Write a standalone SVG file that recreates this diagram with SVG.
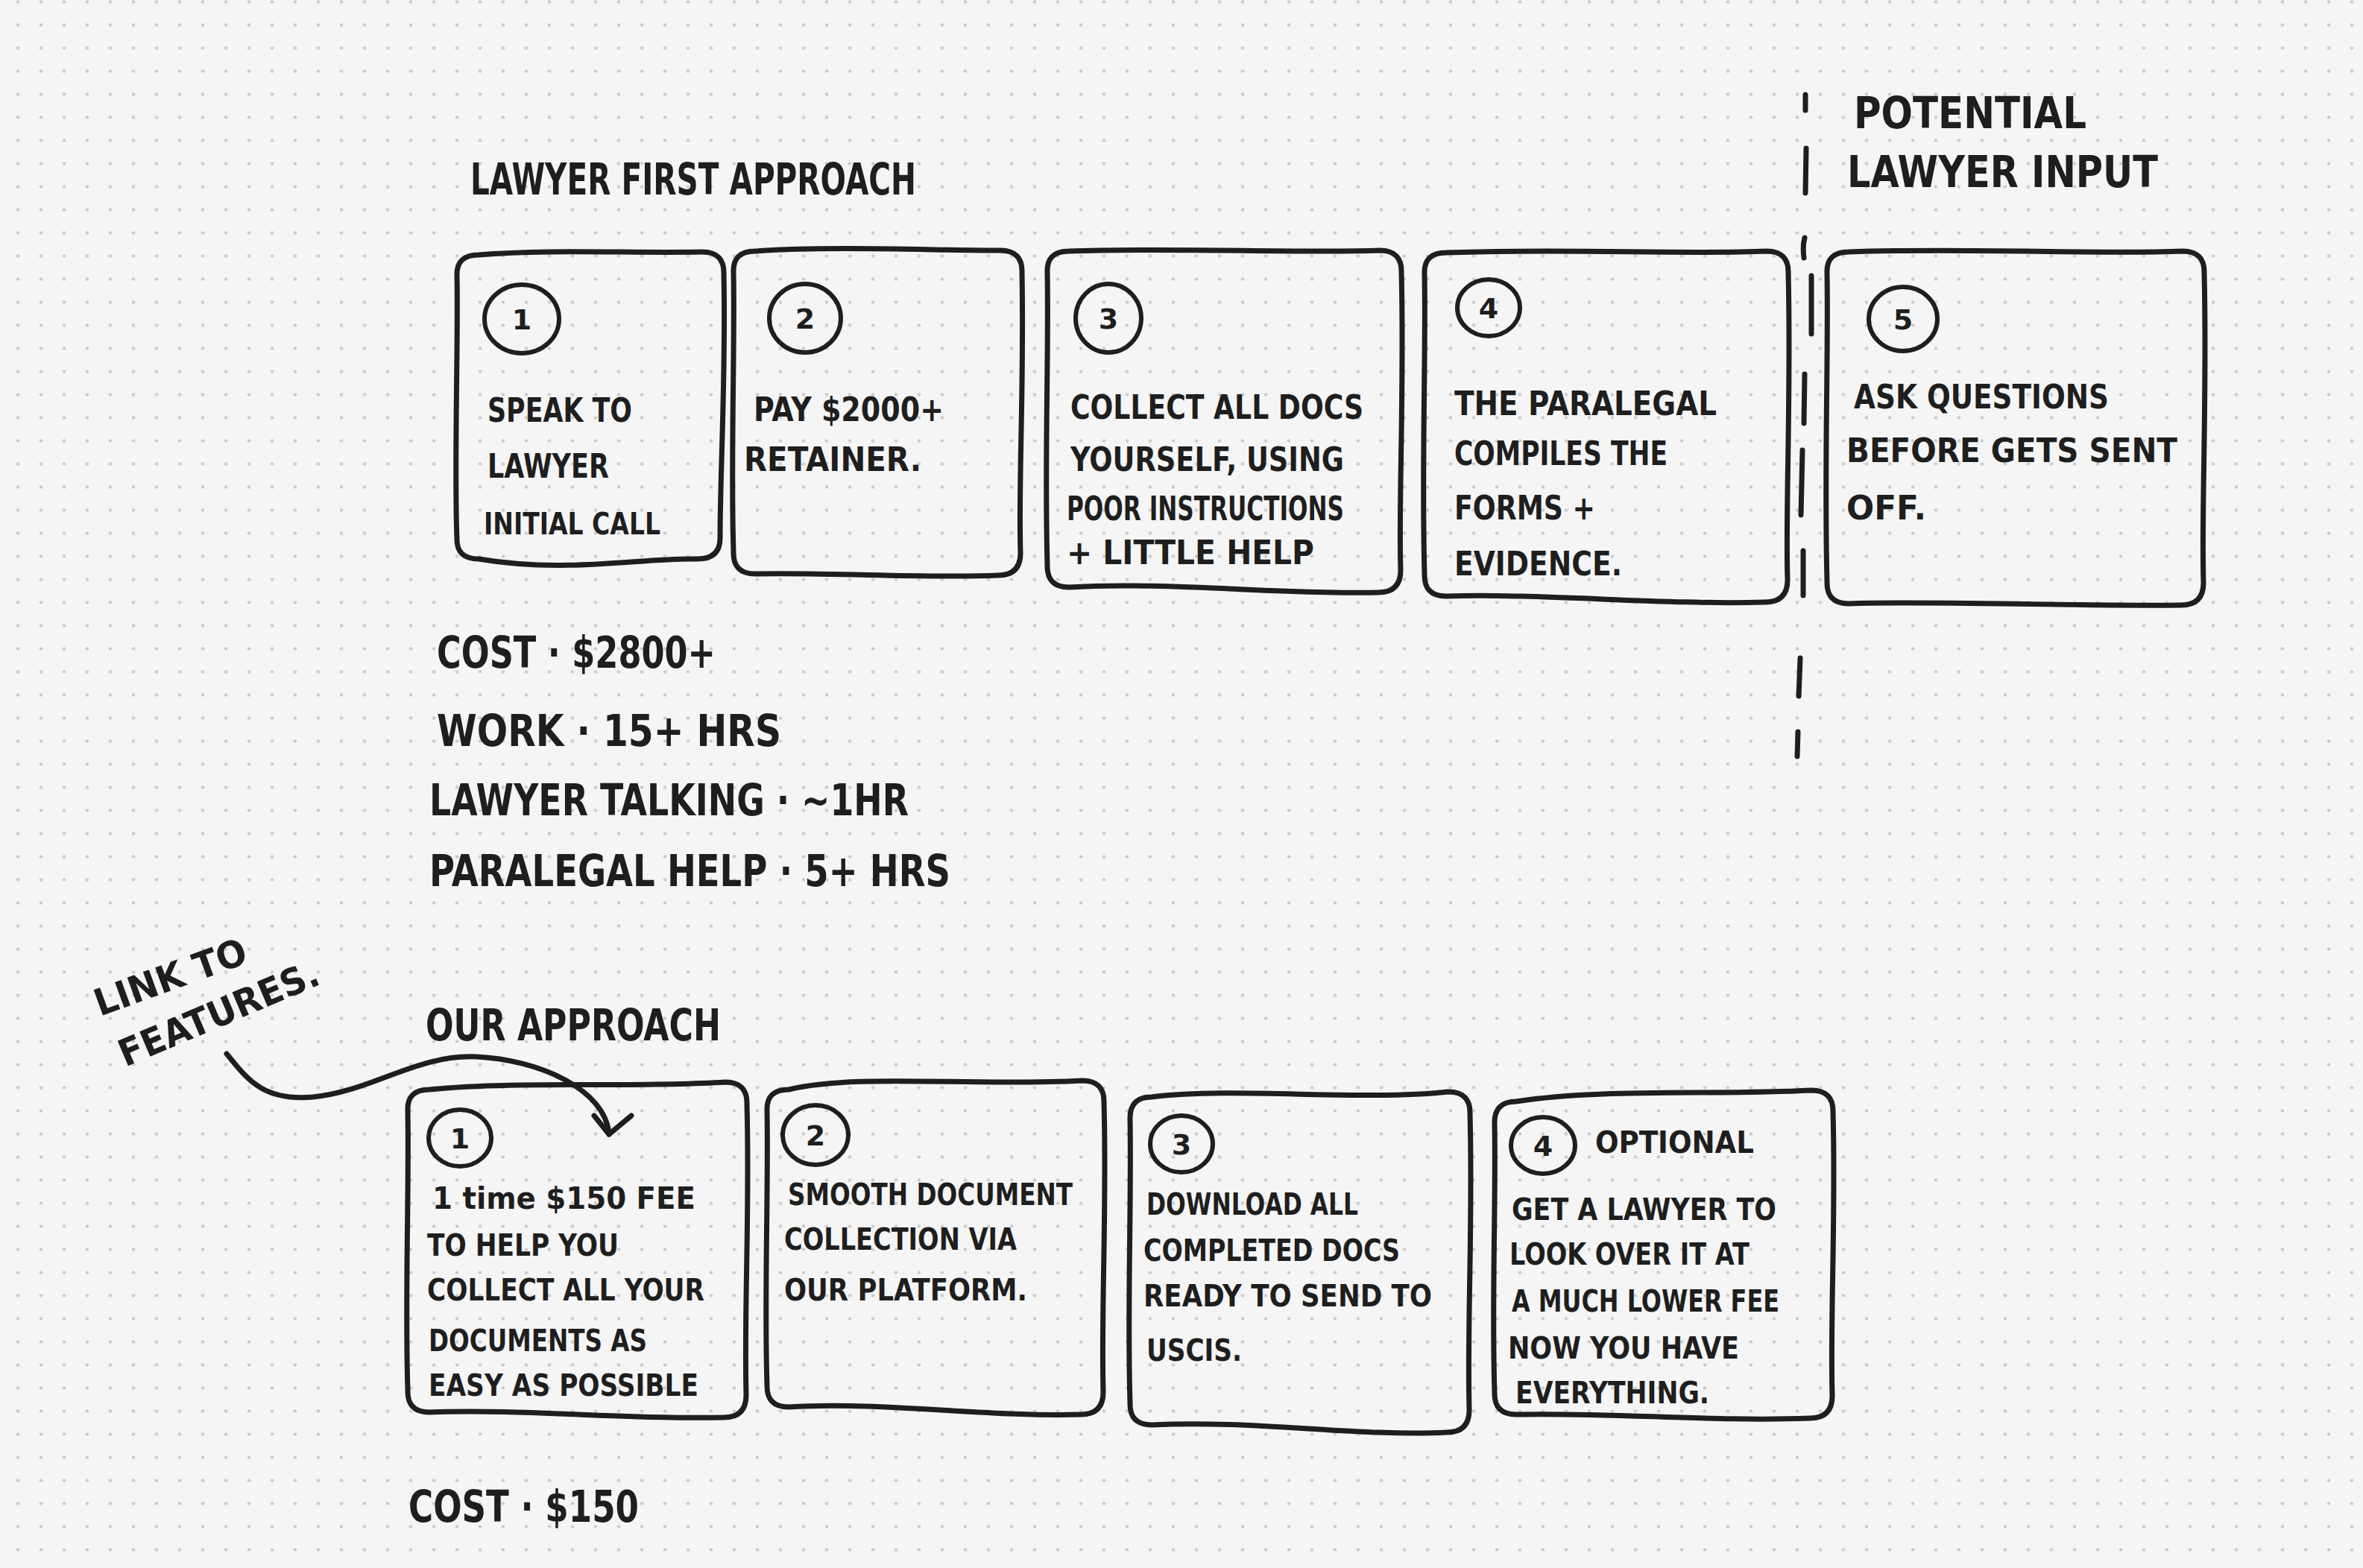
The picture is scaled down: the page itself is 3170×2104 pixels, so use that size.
<svg xmlns="http://www.w3.org/2000/svg" width="3170" height="2104" viewBox="0 0 3170 2104">
<defs>
<pattern id="dots" x="8.5" y="-13" width="31" height="31" patternUnits="userSpaceOnUse">
<circle cx="15.5" cy="15.5" r="2.2" fill="#cacaca"/>
</pattern>
<style>
.box{fill:none;stroke:#1e1e1e;stroke-width:7;stroke-linecap:round;stroke-linejoin:round}
.num{fill:none;stroke:#1e1e1e;stroke-width:6}
.t{font-family:"DejaVu Sans","Liberation Sans",sans-serif;font-weight:bold;fill:#1e1e1e}
.s{font-size:44px}
.m{font-size:40px}
.n{font-size:38px;text-anchor:middle}
.h{font-size:58px}
.ln{fill:none;stroke:#1e1e1e;stroke-width:7;stroke-linecap:round;stroke-linejoin:round}
</style>
</defs>
<rect width="3170" height="2104" fill="#f5f5f5"/>
<rect width="3170" height="2104" fill="url(#dots)"/>

<g id="headings">
<text class="t h" x="631" y="261" textLength="598" lengthAdjust="spacingAndGlyphs">LAWYER FIRST APPROACH</text>
<text class="t h" x="2487" y="172" textLength="312" lengthAdjust="spacingAndGlyphs">POTENTIAL</text>
<text class="t h" x="2478" y="251" textLength="417" lengthAdjust="spacingAndGlyphs">LAWYER INPUT</text>
<text class="t h" x="571" y="1396" textLength="396" lengthAdjust="spacingAndGlyphs">OUR APPROACH</text>
<text class="t" font-size="50" x="134" y="1364" textLength="214" lengthAdjust="spacingAndGlyphs" transform="rotate(-20 134 1364)">LINK TO</text>
<text class="t" font-size="50" x="168" y="1432" textLength="287" lengthAdjust="spacingAndGlyphs" transform="rotate(-23 168 1432)">FEATURES.</text>
</g>

<g id="divider">
<path class="ln" d="M2422 127 L2422 148 M2423 199 L2422 259 M2421 319 Q2418 330 2420 346 M2430 370 L2430 448 M2421 502 L2420 568 M2418 604 L2416 691 M2419 739 L2419 799 M2415 883 L2413 934 M2412 982 L2411 1015"/>
</g>

<g id="top-step-1">
<path class="box" d="M642 342 C738 334,846 340,942 338 Q972 338,971 368 C974 505,966 630,966 722 Q966 750,936 750 C860 748,760 770,642 750 Q612 750,613 722 C609 630,615 450,613 370 Q612 342,642 342 Z"/>
<ellipse class="num" cx="700" cy="428" rx="50" ry="46"/>
<text class="t n" x="700" y="442">1</text>
<text class="t s" x="654" y="566" textLength="194" lengthAdjust="spacingAndGlyphs">SPEAK TO</text>
<text class="t s" x="654" y="641" textLength="163" lengthAdjust="spacingAndGlyphs">LAWYER</text>
<text class="t m" x="649" y="717" textLength="237" lengthAdjust="spacingAndGlyphs">INITIAL CALL</text>
</g>

<g id="top-step-2">
<path class="box" d="M1013 337 C1120 330,1250 336,1342 336 Q1372 336,1371 366 C1374 520,1366 650,1369 742 Q1369 772,1339 772 C1240 776,1120 768,1013 770 Q983 770,984 740 C980 620,986 470,984 365 Q983 337,1013 337 Z"/>
<ellipse class="num" cx="1080" cy="427" rx="48" ry="46"/>
<text class="t n" x="1080" y="441">2</text>
<text class="t s" x="1011" y="565" textLength="255" lengthAdjust="spacingAndGlyphs">PAY $2000+</text>
<text class="t s" x="998" y="632" textLength="238" lengthAdjust="spacingAndGlyphs">RETAINER.</text>
</g>

<g id="top-step-3">
<path class="box" d="M1434 337 C1580 332,1740 340,1851 336 Q1881 336,1880 366 C1884 520,1876 680,1879 765 Q1879 795,1849 795 C1720 798,1560 780,1434 788 Q1404 788,1405 758 C1401 620,1407 480,1405 365 Q1404 337,1434 337 Z"/>
<ellipse class="num" cx="1487" cy="427" rx="44" ry="46"/>
<text class="t n" x="1487" y="441">3</text>
<text class="t s" x="1436" y="562" textLength="393" lengthAdjust="spacingAndGlyphs">COLLECT ALL DOCS</text>
<text class="t s" x="1436" y="632" textLength="367" lengthAdjust="spacingAndGlyphs">YOURSELF, USING</text>
<text class="t s" x="1431" y="698" textLength="372" lengthAdjust="spacingAndGlyphs">POOR INSTRUCTIONS</text>
<text class="t s" x="1431" y="757" textLength="332" lengthAdjust="spacingAndGlyphs">+ LITTLE HELP</text>
</g>

<g id="top-step-4">
<path class="box" d="M1940 339 C2100 333,2260 342,2370 337 Q2400 337,2399 367 C2403 530,2395 690,2398 778 Q2398 808,2368 808 C2230 812,2070 796,1940 800 Q1910 800,1911 770 C1907 630,1913 480,1911 367 Q1910 339,1940 339 Z"/>
<ellipse class="num" cx="1997" cy="413" rx="42" ry="38"/>
<text class="t n" x="1997" y="427">4</text>
<text class="t s" x="1951" y="557" textLength="352" lengthAdjust="spacingAndGlyphs">THE PARALEGAL</text>
<text class="t s" x="1951" y="624" textLength="286" lengthAdjust="spacingAndGlyphs">COMPILES THE</text>
<text class="t s" x="1951" y="697" textLength="189" lengthAdjust="spacingAndGlyphs">FORMS +</text>
<text class="t s" x="1951" y="772" textLength="225" lengthAdjust="spacingAndGlyphs">EVIDENCE.</text>
</g>

<g id="top-step-5">
<path class="box" d="M2480 338 C2640 332,2810 342,2928 337 Q2958 337,2957 367 C2961 530,2953 690,2956 782 Q2956 812,2926 812 C2790 814,2620 806,2480 810 Q2450 810,2451 780 C2447 630,2453 480,2451 366 Q2450 338,2480 338 Z"/>
<ellipse class="num" cx="2553" cy="428" rx="46" ry="43"/>
<text class="t n" x="2553" y="442">5</text>
<text class="t s" x="2487" y="548" textLength="342" lengthAdjust="spacingAndGlyphs">ASK QUESTIONS</text>
<text class="t s" x="2477" y="620" textLength="444" lengthAdjust="spacingAndGlyphs">BEFORE GETS SENT</text>
<text class="t s" x="2477" y="697" textLength="107" lengthAdjust="spacingAndGlyphs">OFF.</text>
</g>

<g id="lawyer-costs">
<text class="t h" x="586" y="896" textLength="374" lengthAdjust="spacingAndGlyphs">COST · $2800+</text>
<text class="t h" x="586" y="1001" textLength="462" lengthAdjust="spacingAndGlyphs">WORK · 15+ HRS</text>
<text class="t h" x="576" y="1094" textLength="643" lengthAdjust="spacingAndGlyphs">LAWYER TALKING · ~1HR</text>
<text class="t h" x="576" y="1189" textLength="699" lengthAdjust="spacingAndGlyphs">PARALEGAL HELP · 5+ HRS</text>
</g>

<g id="our-step-1">
<path class="box" d="M576 1462 C700 1450,850 1460,973 1452 Q1003 1452,1002 1482 C1006 1620,998 1760,1001 1872 Q1001 1902,971 1902 C840 1905,700 1890,576 1895 Q546 1895,547 1865 C543 1740,549 1600,547 1490 Q546 1462,576 1462 Z"/>
<ellipse class="num" cx="617" cy="1527" rx="42" ry="38"/>
<text class="t n" x="617" y="1541">1</text>
<text class="t m" x="580" y="1622" textLength="353" lengthAdjust="spacingAndGlyphs">1 time $150 FEE</text>
<text class="t m" x="573" y="1685" textLength="257" lengthAdjust="spacingAndGlyphs">TO HELP YOU</text>
<text class="t m" x="573" y="1745" textLength="372" lengthAdjust="spacingAndGlyphs">COLLECT ALL YOUR</text>
<text class="t m" x="575" y="1813" textLength="293" lengthAdjust="spacingAndGlyphs">DOCUMENTS AS</text>
<text class="t m" x="575" y="1873" textLength="362" lengthAdjust="spacingAndGlyphs">EASY AS POSSIBLE</text>
</g>

<g id="our-step-2">
<path class="box" d="M1058 1462 C1150 1440,1300 1458,1452 1450 Q1482 1450,1481 1480 C1485 1620,1477 1760,1480 1868 Q1480 1898,1450 1898 C1330 1902,1180 1880,1058 1888 Q1028 1888,1029 1858 C1025 1740,1031 1600,1029 1490 Q1028 1462,1058 1462 Z"/>
<ellipse class="num" cx="1094" cy="1523" rx="44" ry="40"/>
<text class="t n" x="1094" y="1537">2</text>
<text class="t m" x="1057" y="1617" textLength="382" lengthAdjust="spacingAndGlyphs">SMOOTH DOCUMENT</text>
<text class="t m" x="1052" y="1677" textLength="312" lengthAdjust="spacingAndGlyphs">COLLECTION VIA</text>
<text class="t m" x="1052" y="1745" textLength="326" lengthAdjust="spacingAndGlyphs">OUR PLATFORM.</text>
</g>

<g id="our-step-3">
<path class="box" d="M1545 1472 C1660 1458,1820 1478,1943 1465 Q1973 1465,1972 1495 C1976 1640,1968 1780,1971 1892 Q1971 1922,1941 1922 C1820 1928,1680 1905,1545 1912 Q1515 1912,1516 1882 C1512 1760,1518 1620,1516 1502 Q1515 1472,1545 1472 Z"/>
<ellipse class="num" cx="1585" cy="1535" rx="42" ry="38"/>
<text class="t n" x="1585" y="1549">3</text>
<text class="t m" x="1538" y="1630" textLength="284" lengthAdjust="spacingAndGlyphs">DOWNLOAD ALL</text>
<text class="t m" x="1534" y="1692" textLength="344" lengthAdjust="spacingAndGlyphs">COMPLETED DOCS</text>
<text class="t m" x="1534" y="1753" textLength="387" lengthAdjust="spacingAndGlyphs">READY TO SEND TO</text>
<text class="t m" x="1538" y="1826" textLength="128" lengthAdjust="spacingAndGlyphs">USCIS.</text>
</g>

<g id="our-step-4">
<path class="box" d="M2034 1478 C2150 1460,2300 1470,2430 1463 Q2460 1463,2459 1493 C2463 1630,2455 1770,2458 1873 Q2458 1903,2428 1903 C2300 1908,2160 1895,2034 1898 Q2004 1898,2005 1868 C2001 1750,2007 1610,2005 1508 Q2004 1478,2034 1478 Z"/>
<ellipse class="num" cx="2070" cy="1537" rx="43" ry="38"/>
<text class="t n" x="2070" y="1551">4</text>
<text class="t m" x="2140" y="1547" textLength="213" lengthAdjust="spacingAndGlyphs">OPTIONAL</text>
<text class="t m" x="2028" y="1637" textLength="355" lengthAdjust="spacingAndGlyphs">GET A LAWYER TO</text>
<text class="t m" x="2025" y="1697" textLength="322" lengthAdjust="spacingAndGlyphs">LOOK OVER IT AT</text>
<text class="t m" x="2028" y="1760" textLength="359" lengthAdjust="spacingAndGlyphs">A MUCH LOWER FEE</text>
<text class="t m" x="2023" y="1823" textLength="310" lengthAdjust="spacingAndGlyphs">NOW YOU HAVE</text>
<text class="t m" x="2033" y="1883" textLength="260" lengthAdjust="spacingAndGlyphs">EVERYTHING.</text>
</g>

<g id="our-cost">
<text class="t h" x="548" y="2042" textLength="309" lengthAdjust="spacingAndGlyphs">COST · $150</text>
</g>

<g id="connectors">
<path class="ln" d="M304 1414 C330 1445,350 1478,420 1472 C500 1464,560 1414,640 1418 C720 1422,812 1460,817 1522"/>
<path class="ln" d="M797 1497 L817 1522 L847 1497"/>
</g>
</svg>
